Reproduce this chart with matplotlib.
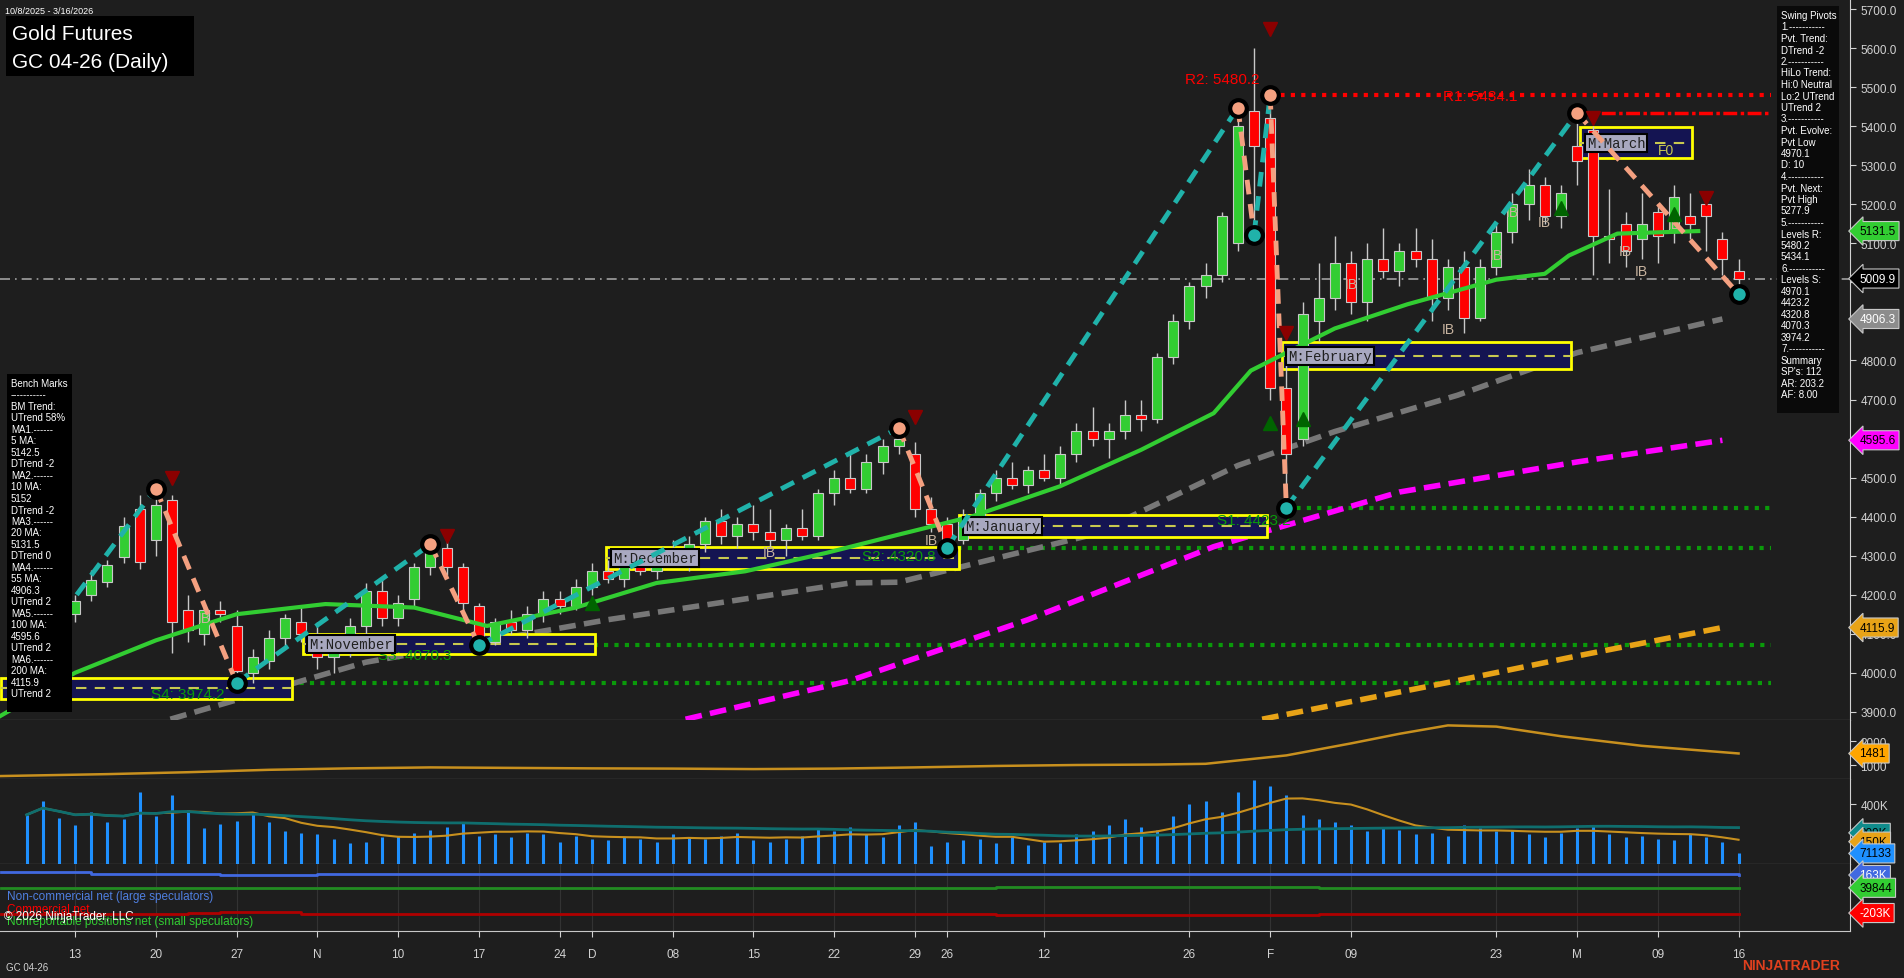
import numpy as np
import pandas as pd
import matplotlib
matplotlib.use("Agg")
import matplotlib.pyplot as plt
from matplotlib.patches import Rectangle

plt.rcParams["font.family"] = ["Liberation Sans", "DejaVu Sans"]

BG = "#1e1e1e"
FG = "#d2d2d2"
UP = "#32cd32"
DN = "#ff0000"

# ---- daily bars GC 04-26 ----
opens = [4040, 4060, 4110, 4150, 4200, 4232, 4296, 4420, 4339, 4443, 4160, 4100, 4160, 4120, 4000, 4030, 4090, 4130,
         4100, 4040, 4060, 4120, 4210, 4140, 4190, 4270, 4320, 4270, 4170, 4080, 4130, 4110, 4150, 4190, 4170, 4220,
         4260, 4240, 4280, 4260, 4300, 4290, 4330, 4390, 4350, 4380, 4360, 4340, 4370, 4350, 4460, 4500, 4470, 4540,
         4580, 4560, 4420, 4380, 4340, 4400, 4460, 4500, 4480, 4520, 4500, 4560, 4620, 4600, 4620, 4660, 4650, 4810,
         4900, 4990, 5020, 5100, 5440, 5420, 4730, 4600, 4900, 4960, 5050, 4950, 5060, 5030, 5080, 5060, 4960, 5040,
         4910, 5040, 5130, 5200, 5250, 5170, 5350, 5390, 5120, 5150, 5110, 5180, 5130, 5170, 5200, 5110, 5030]
highs = [4070, 4120, 4160, 4200, 4262, 4290, 4400, 4455, 4467, 4455, 4200, 4180, 4185, 4160, 4060, 4110, 4150, 4170,
         4130, 4080, 4140, 4230, 4240, 4200, 4280, 4329, 4340, 4280, 4180, 4140, 4160, 4170, 4210, 4210, 4240, 4280,
         4290, 4300, 4320, 4310, 4340, 4350, 4400, 4420, 4400, 4430, 4420, 4380, 4420, 4470, 4520, 4560, 4560, 4600,
         4627, 4590, 4450, 4400, 4420, 4470, 4520, 4540, 4530, 4560, 4580, 4640, 4680, 4640, 4700, 4700, 4820, 4920,
         5000, 5050, 5180, 5448, 5600, 5480, 4820, 4950, 5050, 5120, 5080, 5100, 5140, 5100, 5140, 5110, 5060, 5080,
         5060, 5150, 5230, 5290, 5270, 5250, 5434, 5400, 5240, 5180, 5230, 5200, 5250, 5230, 5210, 5130, 5060]
lows = [4010, 4050, 4090, 4130, 4185, 4220, 4280, 4265, 4300, 4050, 4080, 4070, 4130, 3974, 3975, 4010, 4060, 4080,
        4010, 4000, 4040, 4100, 4120, 4120, 4170, 4250, 4250, 4160, 4068, 4070, 4100, 4090, 4130, 4150, 4160, 4200,
        4230, 4220, 4250, 4240, 4270, 4260, 4310, 4330, 4320, 4340, 4320, 4300, 4340, 4340, 4430, 4460, 4460, 4510,
        4560, 4400, 4360, 4323, 4330, 4390, 4440, 4470, 4460, 4490, 4480, 4540, 4580, 4550, 4600, 4620, 4640, 4790,
        4880, 4960, 5000, 5080, 5122, 4700, 4423, 4580, 4850, 4930, 4920, 4900, 5010, 4990, 5040, 4900, 4930, 4870,
        4900, 5020, 5100, 5160, 5150, 5140, 5250, 5020, 5050, 5040, 5060, 5050, 5100, 5110, 5080, 5020, 4970]
closes = [4060, 4110, 4150, 4185, 4237, 4275, 4377, 4283, 4431, 4130, 4110, 4160, 4150, 4005, 4040, 4090, 4140, 4100,
          4040, 4060, 4120, 4210, 4140, 4180, 4270, 4310, 4270, 4180, 4080, 4130, 4110, 4150, 4190, 4170, 4220, 4260,
          4240, 4280, 4260, 4300, 4290, 4330, 4390, 4350, 4380, 4360, 4340, 4370, 4350, 4460, 4500, 4470, 4540, 4580,
          4600, 4420, 4380, 4330, 4400, 4460, 4500, 4480, 4520, 4500, 4560, 4620, 4600, 4620, 4660, 4650, 4810, 4900,
          4990, 5020, 5170, 5400, 5350, 4730, 4560, 4920, 4960, 5050, 4950, 5060, 5030, 5080, 5060, 4960, 5040, 4910,
          5040, 5130, 5200, 5250, 5170, 5230, 5310, 5120, 5110, 5080, 5150, 5120, 5220, 5150, 5170, 5060, 5009.9]
volume_k = [330, 420, 310, 260, 350, 280, 300, 480, 320, 460, 360, 240, 270, 290, 340, 280, 220, 210,
            200, 170, 140, 150, 180, 190, 210, 230, 250, 280, 190, 200, 180, 210, 200, 150, 190, 170,
            160, 180, 170, 150, 200, 180, 170, 190, 210, 160, 150, 170, 190, 240, 220, 250, 200, 180, 260, 280, 120, 150,
            160, 170, 140, 180, 130, 150, 140, 200, 220, 260, 300, 250, 230, 320, 400, 420, 350, 480, 560,
            520, 460, 330, 300, 280, 260, 220, 250, 230,
            200, 210, 190, 260, 240, 220, 230, 200, 180, 210,
            240, 260, 200, 180, 190, 170, 160, 200, 180, 150, 71.133]

date_tick_pos = [3, 8, 13, 18, 23, 28, 33, 35, 40, 45, 50, 55, 57, 63, 72, 77, 82, 91, 96, 101, 106]
date_tick_lbl = ["13", "20", "27", "N", "10", "17", "24", "D", "08", "15", "22", "29", "26", "12", "26", "F",
                 "09", "23", "M", "09", "16"]

# moving averages as drawn (bar index, price)
ma20_x = [-1.6, 3, 8, 13, 18.5, 24, 28.5, 34, 39, 44.5, 49.5, 54, 58.5, 64, 69, 73.5, 75.8, 78, 81, 85.5, 91, 94, 95.5, 98.5, 103.5]
ma20_y = [3890, 4000, 4083, 4150, 4176, 4167, 4120, 4167, 4230, 4260, 4307, 4354, 4400, 4478, 4571, 4665, 4774, 4820, 4882, 4944, 5007, 5022, 5069, 5125, 5131.5]
ma55_x = [8.9, 21, 36, 51, 54, 66, 75, 81, 88.6, 96, 105]
ma55_y = [3881, 4027, 4136, 4230, 4232, 4354, 4531, 4618, 4711, 4820, 4906.3]
ma100_x = [40.8, 51, 62, 73.5, 85, 96, 105]
ma100_y = [3881, 3980, 4136, 4323, 4463, 4540, 4595.6]
ma200_x = [76.5, 88.6, 96, 105]
ma200_y = [3881, 3980, 4043, 4115.9]

# swing pivots (bar index, price)
piv_x = [-0.5, 8, 13, 25, 28, 54, 57, 75, 76, 77, 78, 96, 106]
piv_y = [4000, 4472, 3974.2, 4329, 4070.3, 4627, 4320.8, 5448, 5122, 5480.2, 4423.2, 5434.1, 4970.1]

# monthly boxes: start, end, low, high, label
box_x0 = [-1.6, 17.1, 35.9, 57.7, 77.7, 96.2]
box_x1 = [16.4, 35.2, 57.7, 76.8, 95.6, 103.1]
box_lo = [3934, 4049, 4267, 4347, 4777, 5318]
box_hi = [3987, 4099, 4323, 4404, 4848, 5398]
box_lbl = ["", "M:November", "M:December", "M:January", "M:February", "M:March"]

# range panel, COT
atr_x = [-1.6, 5, 10, 15, 20, 25, 30, 35, 40, 45, 50, 55, 60, 65, 70, 73, 78, 82, 85, 88, 91, 95, 100, 106]
atr_y = [540, 620, 700, 800, 860, 900, 880, 860, 850, 830, 850, 900, 960, 1000, 1020, 1050, 1400, 1900, 2300, 2650, 2600, 2200, 1800, 1481]
cot_x = [-1.6, 4, 10, 12, 17, 18, 60, 80, 106]
cot_noncomm = [190, 175, 175, 165, 165, 175, 175, 168, 163]
cot_nonrep = [40, 40, 40, 40, 40, 42, 45, 40, 39.844]
cot_comm = [-215, -215, -200, -195, -210, -215, -220, -215, -213]

W, H = 1904, 979
fig = plt.figure(figsize=(W / 100, H / 100), dpi=100, facecolor=BG)


def px_axes(top, bottom, right=1850):
    return fig.add_axes([0, 1 - bottom / H, right / W, (bottom - top) / H], facecolor=BG)


XL = (-1.65, 112.9)
ax = px_axes(0, 721)
ax2 = px_axes(721, 780)
ax3 = px_axes(780, 865)
ax4 = px_axes(865, 932)
for a in (ax, ax2, ax3, ax4):
    a.set_xlim(*XL)
    a.yaxis.tick_right()
    a.tick_params(axis="y", colors=FG, labelsize=8.5, length=4)
    a.tick_params(axis="x", bottom=False, labelbottom=False)
    for s in a.spines.values():
        s.set_visible(False)
    a.spines["right"].set_visible(True)
    a.spines["right"].set_color(FG)
    a.spines["bottom"].set_visible(True)
    a.spines["bottom"].set_color("#c8c8c8")

# ---- main price panel ----
ax.set_ylim(3879, 5726)
ax.set_yticks(np.arange(3900, 5701, 100))
ax.set_yticklabels([f"{v:.1f}" for v in np.arange(3900, 5701, 100)])
idx = np.arange(len(closes))
o, hgh, low, c = map(np.array, (opens, highs, lows, closes))
col = np.where(c >= o, UP, DN)
ax.vlines(idx, low, hgh, color="#c8c8c8", lw=1, zorder=3)
ax.bar(idx, np.maximum(np.abs(c - o), 4), bottom=np.minimum(o, c), width=0.62, color=col,
       edgecolor="#c8c8c8", lw=0.8, zorder=4)

ax.axhline(5009.9, color="#a0a0a0", lw=1.2, ls=(0, (6, 3, 1, 3)), zorder=2)

# support / resistance levels
ax.hlines(5480.2, 77, 108, color=DN, lw=3, ls=(0, (1, 1.5)), zorder=2)
ax.hlines(5434.1, 96, 108, color=DN, lw=2.5, ls=(0, (4, 1, 1, 1)), zorder=2)
for lvl, x0 in [(4423.2, 78), (4320.8, 57), (4070.3, 28), (3974.2, 13)]:
    ax.hlines(lvl, x0, 108, color="#0a9a0a", lw=3, ls=(0, (1, 1.5)), zorder=2)
ax.text(74, 5510, "R2: 5480.2", color=DN, fontsize=11, ha="center")
ax.text(90, 5468, "R1: 5434.1", color=DN, fontsize=11, ha="center")
ax.text(24, 4035, "S3: 4070.3", color="#0a9a0a", fontsize=11, ha="center")
ax.text(10, 3935, "S4: 3974.2", color="#0a9a0a", fontsize=11, ha="center")
ax.text(54, 4290, "S2: 4320.8", color="#0a9a0a", fontsize=11, ha="center")
ax.text(76, 4380, "S1: 4423.2", color="#0a9a0a", fontsize=11, ha="center")

# monthly boxes
for x0, x1, lo, hi, lbl in zip(box_x0, box_x1, box_lo, box_hi, box_lbl):
    ax.add_patch(Rectangle((x0, lo), x1 - x0, hi - lo, facecolor="#141452", edgecolor="#ffff00", lw=2, zorder=2.5))
    ax.hlines((lo + hi) / 2, x0, x1, color="#c8c850", lw=1.5, ls=(0, (5, 4)), zorder=2.6)
    if lbl:
        ax.text(x0 + 0.4, (lo + hi) / 2, lbl, family="Liberation Mono", fontsize=10, color="#202020",
                va="center", zorder=6, bbox=dict(facecolor="#a8a8c0", edgecolor="black", lw=1.5, pad=1.5))
ax.text(101, 5330, "F0", color="#c8c850", fontsize=10, zorder=6)

# moving averages
ax.plot(ma20_x, ma20_y, color=UP, lw=3, zorder=5)
ax.plot(ma55_x, ma55_y, color="#777777", lw=4, ls=(0, (3, 1.5)), zorder=2)
ax.plot(ma100_x, ma100_y, color="#ff00ff", lw=4, ls=(0, (3, 1.5)), zorder=2)
ax.plot(ma200_x, ma200_y, color="#e8a317", lw=4, ls=(0, (3, 1.5)), zorder=2)

# swing zigzag
for i in range(len(piv_x) - 1):
    up = piv_y[i + 1] > piv_y[i]
    ax.plot(piv_x[i:i + 2], piv_y[i:i + 2], color="#20b2aa" if up else "#f4a080", lw=3.5,
            ls=(0, (3, 2)), zorder=7)
for i, (px, py) in enumerate(zip(piv_x[1:], piv_y[1:])):
    is_high = piv_y[i + 1] > piv_y[i]
    ax.plot(px, py, "o", ms=12, mfc="#f4a080" if is_high else "#20b2aa", mec="black", mew=3, zorder=8)

# markers
ax.plot([9, 26, 55, 77, 78, 97, 104], [4500, 4350, 4655, 5650, 4870, 5420, 5215], "v", color="#8b0000",
        ms=10, zorder=8)
ax.plot([35, 77, 79, 95, 102], [4180, 4640, 4650, 5190, 5175], "^", color="#006400", ms=10, zorder=8)
for ix, iy in [(11, 4130), (46, 4300), (56, 4330), (82, 4985), (88, 4870), (91, 5060), (94, 5145), (99, 5070),
               (100, 5020), (102, 5140), (92, 5170)]:
    ax.text(ix, iy, "IB", color="#c8b4a0", fontsize=10, ha="center", zorder=6)

# right-side value tags
for val, fc, tc in [(5131.5, "#32cd32", "black"), (5009.9, "black", "white"), (4906.3, "#8c8c8c", "white"),
                    (4595.6, "#ff00ff", "black"), (4115.9, "#e8a317", "black")]:
    ax.text(1.005, val, f"{val:.1f}", transform=ax.get_yaxis_transform(), color=tc, fontsize=8.5,
            va="center", ha="left", zorder=10, clip_on=False,
            bbox=dict(boxstyle="larrow,pad=0.3", facecolor=fc, edgecolor="#c8c8c8", lw=0.8))

# ---- panel 2 ----
ax2.set_ylim(417, 2875)
ax2.set_yticks([1000, 2000])
ax2.set_yticklabels(["1000", "2000"])
ax2.plot(atr_x, atr_y, color="#c8901e", lw=1.8)
ax2.text(1.005, 1481, "1481", transform=ax2.get_yaxis_transform(), fontsize=8.5, va="center", clip_on=False,
         bbox=dict(boxstyle="larrow,pad=0.3", facecolor="#ffa500", edgecolor="#c8c8c8", lw=0.8))

# ---- panel 3 volume ----
vol = pd.Series(volume_k)
ax3.set_ylim(0, 570)
ax3.set_yticks([400])
ax3.set_yticklabels(["400K"])
ax3.vlines(idx, 0, vol, color="#1e90ff", lw=2.2)
ax3.plot(idx, vol.rolling(8, min_periods=1).mean(), color="#c8901e", lw=1.5)
ax3.plot(idx, vol.rolling(50, min_periods=1).mean(), color="#0f6e6e", lw=2)
for val, txt, fc in [(209, "209K", "#0f8c8c"), (150, "150K", "#e8a317"), (71, "71133", "#1e90ff")]:
    ax3.text(1.005, val, txt, transform=ax3.get_yaxis_transform(), fontsize=8.5, va="center", clip_on=False,
             bbox=dict(boxstyle="larrow,pad=0.3", facecolor=fc, edgecolor="#c8c8c8", lw=0.8))

# ---- panel 4 COT ----
ax4.set_ylim(-376, 269)
ax4.set_yticks([])
ax4.plot(cot_x, cot_noncomm, color="#4169e1", lw=2, drawstyle="steps-post")
ax4.plot(cot_x, cot_nonrep, color="#228b22", lw=2, drawstyle="steps-post")
ax4.plot(cot_x, cot_comm, color="#b00000", lw=2, drawstyle="steps-post")
for t in date_tick_pos:
    ax4.axvline(t, color="#333333", lw=0.8, zorder=0)
for val, txt, fc, tc in [(163, "163K", "#4169e1", "white"), (39.8, "39844", "#32cd32", "black"),
                         (-203, "-203K", "#ff0000", "white")]:
    ax4.text(1.005, val, txt, transform=ax4.get_yaxis_transform(), fontsize=8.5, va="center", color=tc,
             clip_on=False, bbox=dict(boxstyle="larrow,pad=0.3", facecolor=fc, edgecolor="#c8c8c8", lw=0.8))
ax4.set_xticks(date_tick_pos)
ax4.set_xticklabels(date_tick_lbl)
ax4.tick_params(axis="x", bottom=True, labelbottom=True, colors=FG, labelsize=8.5, length=4, pad=8)

# ---- overlay texts in pixel space ----
ov = fig.add_axes([0, 0, 1, 1], facecolor="none")
ov.set_xlim(0, W)
ov.set_ylim(H, 0)
ov.axis("off")
ov.text(5, 11, "10/8/2025 - 3/16/2026", color="white", fontsize=6.5, va="center")
ov.add_patch(Rectangle((6, 17), 188, 60, facecolor="black", edgecolor="none"))
ov.text(12, 34, "Gold Futures", color="white", fontsize=15, va="center")
ov.text(12, 62, "GC 04-26 (Daily)", color="white", fontsize=15, va="center")

bench = ["Bench Marks", "-----------", "BM Trend:", "UTrend 58%", "MA1.------", "5 MA:", "5142.5", "DTrend -2",
         "MA2.------", "10 MA:", "5152", "DTrend -2", "MA3.------", "20 MA:", "5131.5", "DTrend 0",
         "MA4.------", "55 MA:", "4906.3", "UTrend 2", "MA5.------", "100 MA:", "4595.6", "UTrend 2",
         "MA6.------", "200 MA:", "4115.9", "UTrend 2"]
ov.add_patch(Rectangle((7, 375), 65, 338, facecolor="black", edgecolor="none", zorder=1))
for i, s in enumerate(bench):
    ov.text(11, 384 + i * 11.5, s, color="white", fontsize=7, va="center", zorder=2)

swing = ["Swing Pivots", "1.-----------", "Pvt. Trend:", "DTrend -2", "2.-----------", "HiLo Trend:",
         "Hi:0 Neutral", "Lo:2 UTrend", "UTrend 2", "3.-----------", "Pvt. Evolve:", "Pvt Low", "4970.1",
         "D: 10", "4.-----------", "Pvt. Next:", "Pvt High", "5277.9", "5.-----------", "Levels R:", "5480.2",
         "5434.1", "6.-----------", "Levels S:", "4970.1", "4423.2", "4320.8", "4070.3", "3974.2",
         "7.-----------", "Summary", "SP's: 112", "AR: 203.2", "AF: 8.00"]
ov.add_patch(Rectangle((1777, 7), 62, 407, facecolor="#0a0a0a", edgecolor="none", zorder=1))
for i, s in enumerate(swing):
    ov.text(1781, 16 + i * 11.5, s, color="white", fontsize=7, va="center", zorder=2)

ov.text(7, 897, "Non-commercial net (large speculators)", color="#4f7fe0", fontsize=8.5, va="center")
ov.text(7, 910, "Commercial net", color="#ff0000", fontsize=8.5, va="center")
ov.text(7, 922, "Nonreportable positions net (small speculators)", color="#32cd32", fontsize=8.5, va="center")
ov.text(4, 917, "\u00a9 2026 NinjaTrader, LLC", color="white", fontsize=8.5, va="center")
ov.text(6, 968, "GC 04-26", color=FG, fontsize=7, va="center")
ov.text(1840, 966, "NINJATRADER", color="#e0401e", fontsize=10, fontweight="bold", va="center", ha="right")

fig.savefig("out.png", dpi=100, facecolor=BG)
